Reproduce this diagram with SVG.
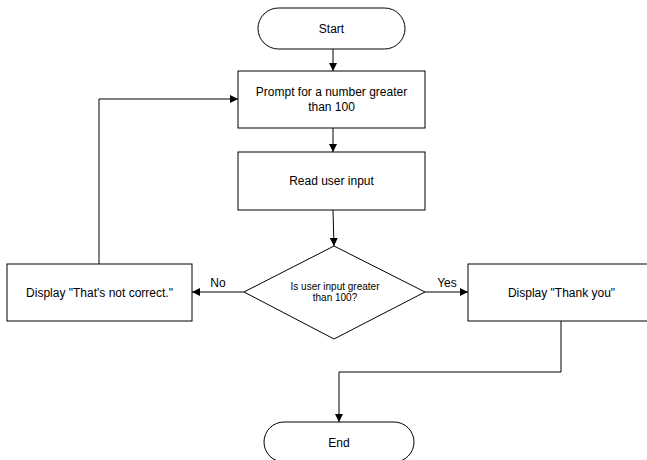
<svg xmlns="http://www.w3.org/2000/svg" width="647" height="460" viewBox="0 0 647 460">
<defs>
<marker id="arr" viewBox="0 0 10 10" refX="10" refY="5" markerWidth="8" markerHeight="8" markerUnits="userSpaceOnUse" orient="auto">
<path d="M0,0 L10,5 L0,10 z" fill="#000"/>
</marker>
</defs>
<style>
.s{fill:#fff;stroke:#000;stroke-width:1}
.t{font-family:"Liberation Sans",Arial,sans-serif;font-size:12px;fill:#000;text-anchor:middle}
.ts{font-family:"Liberation Sans",Arial,sans-serif;font-size:10px;fill:#000;text-anchor:middle}
.c{fill:none;stroke:#000;stroke-width:1;marker-end:url(#arr)}
</style>
<rect width="647" height="460" fill="#fff"/>
<g id="connectors">
<path class="c" d="M333,49 L333,71"/>
<path class="c" d="M333,128 L333,152"/>
<path class="c" d="M333,210 L334,246"/>
<path class="c" d="M244,292 L192,292"/>
<path class="c" d="M425,292 L468,292"/>
<path class="c" d="M99,264 L99,99 L238,99"/>
<path class="c" d="M561,321 L561,372 L339,372 L339,422"/>
<text class="t" x="218" y="287">No</text>
<text class="t" x="447" y="287">Yes</text>
</g>
<g id="start">
<rect class="s" x="258" y="8" width="147" height="41" rx="20.5" ry="20.5"/>
<text class="t" x="331.5" y="32.5">Start</text>
</g>
<g id="prompt">
<rect class="s" x="238" y="71" width="187" height="57"/>
<text class="t" x="331.5" y="96">Prompt for a number greater</text>
<text class="t" x="331.5" y="111">than 100</text>
</g>
<g id="read">
<rect class="s" x="238" y="152" width="187" height="58"/>
<text class="t" x="331.5" y="185">Read user input</text>
</g>
<g id="decision">
<path class="s" d="M334,246 L425,292 L334,339 L244,292 z"/>
<text class="ts" x="335" y="290">Is user input greater</text>
<text class="ts" x="335" y="301">than 100?</text>
</g>
<g id="notcorrect">
<rect class="s" x="7" y="264" width="185" height="57"/>
<text class="t" x="99.5" y="296.5">Display "That's not correct."</text>
</g>
<g id="thankyou">
<rect class="s" x="468" y="264" width="187" height="57"/>
<text class="t" x="561.5" y="296.5">Display "Thank you"</text>
</g>
<g id="end">
<rect class="s" x="264" y="422" width="150" height="40" rx="20" ry="20"/>
<text class="t" x="339" y="447">End</text>
</g>
</svg>
